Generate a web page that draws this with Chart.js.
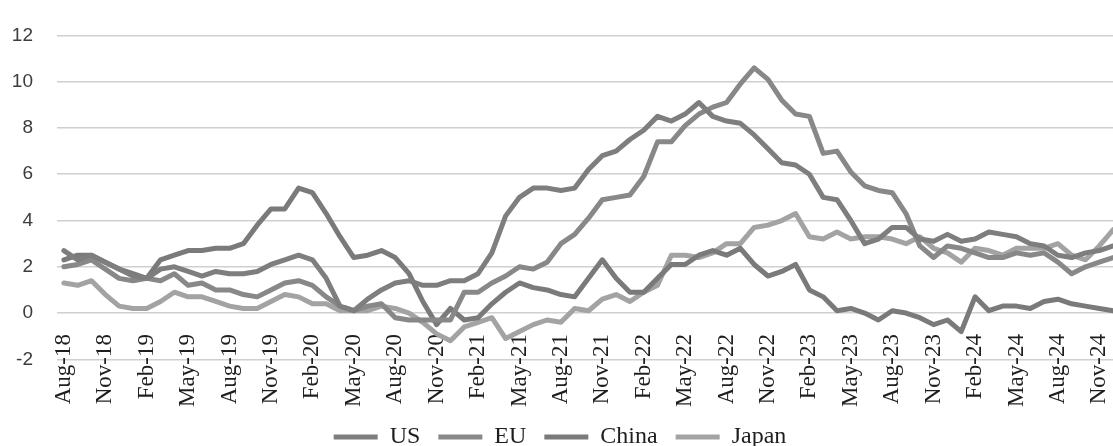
<!DOCTYPE html>
<html>
<head>
<meta charset="utf-8">
<script src="https://cdn.jsdelivr.net/npm/chart.js@4.4.1/dist/chart.umd.min.js"></script>
<style>
  html, body { margin: 0; padding: 0; background: #ffffff; overflow: hidden; }
  #wrap { width: 1140px; height: 459px; }
</style>
</head>
<body>
<div id="wrap"><canvas id="inflation" width="1140" height="459"></canvas></div>
<script>
// Monthly categories, Aug-18 .. Dec-24
const months = [
  'Aug-18','Sep-18','Oct-18','Nov-18','Dec-18',
  'Jan-19','Feb-19','Mar-19','Apr-19','May-19','Jun-19','Jul-19','Aug-19','Sep-19','Oct-19','Nov-19','Dec-19',
  'Jan-20','Feb-20','Mar-20','Apr-20','May-20','Jun-20','Jul-20','Aug-20','Sep-20','Oct-20','Nov-20','Dec-20',
  'Jan-21','Feb-21','Mar-21','Apr-21','May-21','Jun-21','Jul-21','Aug-21','Sep-21','Oct-21','Nov-21','Dec-21',
  'Jan-22','Feb-22','Mar-22','Apr-22','May-22','Jun-22','Jul-22','Aug-22','Sep-22','Oct-22','Nov-22','Dec-22',
  'Jan-23','Feb-23','Mar-23','Apr-23','May-23','Jun-23','Jul-23','Aug-23','Sep-23','Oct-23','Nov-23','Dec-23',
  'Jan-24','Feb-24','Mar-24','Apr-24','May-24','Jun-24','Jul-24','Aug-24','Sep-24','Oct-24','Nov-24','Dec-24'
];

// Year-on-year inflation, %
const us = [
  2.7, 2.3, 2.5, 2.2, 1.9,
  1.6, 1.5, 1.9, 2.0, 1.8, 1.6, 1.8, 1.7, 1.7, 1.8, 2.1, 2.3,
  2.5, 2.3, 1.5, 0.3, 0.1, 0.6, 1.0, 1.3, 1.4, 1.2, 1.2, 1.4,
  1.4, 1.7, 2.6, 4.2, 5.0, 5.4, 5.4, 5.3, 5.4, 6.2, 6.8, 7.0,
  7.5, 7.9, 8.5, 8.3, 8.6, 9.1, 8.5, 8.3, 8.2, 7.7, 7.1, 6.5,
  6.4, 6.0, 5.0, 4.9, 4.0, 3.0, 3.2, 3.7, 3.7, 3.2, 3.1, 3.4,
  3.1, 3.2, 3.5, 3.4, 3.3, 3.0, 2.9, 2.5, 2.4, 2.6, 2.7, 2.9
];
const eu = [
  2.0, 2.1, 2.3, 1.9, 1.5,
  1.4, 1.5, 1.4, 1.7, 1.2, 1.3, 1.0, 1.0, 0.8, 0.7, 1.0, 1.3,
  1.4, 1.2, 0.7, 0.3, 0.1, 0.3, 0.4, -0.2, -0.3, -0.3, -0.3, -0.3,
  0.9, 0.9, 1.3, 1.6, 2.0, 1.9, 2.2, 3.0, 3.4, 4.1, 4.9, 5.0,
  5.1, 5.9, 7.4, 7.4, 8.1, 8.6, 8.9, 9.1, 9.9, 10.6, 10.1, 9.2,
  8.6, 8.5, 6.9, 7.0, 6.1, 5.5, 5.3, 5.2, 4.3, 2.9, 2.4, 2.9,
  2.8, 2.6, 2.4, 2.4, 2.6, 2.5, 2.6, 2.2, 1.7, 2.0, 2.2, 2.4
];
const china = [
  2.3, 2.5, 2.5, 2.2, 1.9,
  1.7, 1.5, 2.3, 2.5, 2.7, 2.7, 2.8, 2.8, 3.0, 3.8, 4.5, 4.5,
  5.4, 5.2, 4.3, 3.3, 2.4, 2.5, 2.7, 2.4, 1.7, 0.5, -0.5, 0.2,
  -0.3, -0.2, 0.4, 0.9, 1.3, 1.1, 1.0, 0.8, 0.7, 1.5, 2.3, 1.5,
  0.9, 0.9, 1.5, 2.1, 2.1, 2.5, 2.7, 2.5, 2.8, 2.1, 1.6, 1.8,
  2.1, 1.0, 0.7, 0.1, 0.2, 0.0, -0.3, 0.1, 0.0, -0.2, -0.5, -0.3,
  -0.8, 0.7, 0.1, 0.3, 0.3, 0.2, 0.5, 0.6, 0.4, 0.3, 0.2, 0.1
];
const japan = [
  1.3, 1.2, 1.4, 0.8, 0.3,
  0.2, 0.2, 0.5, 0.9, 0.7, 0.7, 0.5, 0.3, 0.2, 0.2, 0.5, 0.8,
  0.7, 0.4, 0.4, 0.1, 0.1, 0.1, 0.3, 0.2, 0.0, -0.4, -0.9, -1.2,
  -0.6, -0.4, -0.2, -1.1, -0.8, -0.5, -0.3, -0.4, 0.2, 0.1, 0.6, 0.8,
  0.5, 0.9, 1.2, 2.5, 2.5, 2.4, 2.6, 3.0, 3.0, 3.7, 3.8, 4.0,
  4.3, 3.3, 3.2, 3.5, 3.2, 3.3, 3.3, 3.2, 3.0, 3.3, 2.8, 2.6,
  2.2, 2.8, 2.7, 2.5, 2.8, 2.8, 2.8, 3.0, 2.5, 2.3, 2.9, 3.6
];

// Value-axis gridlines / labels
const yTicks = [-2, 0, 2, 4, 6, 8, 10, 12];

// Axis range: the date labels hang below the zero line, so the plot
// continues a little under the lowest gridline to leave room for them.
const Y_MAX = 12;
const Y_MIN = -4.06;

const serif = 'Liberation Serif, Times New Roman, serif';
const sans = 'Liberation Sans, Arial, sans-serif';

function series(label, values, color) {
  return {
    label,
    data: values,
    borderColor: color,
    backgroundColor: color,
    borderWidth: 5,
    pointRadius: 0,
    pointHoverRadius: 0,
    tension: 0,
    borderJoinStyle: 'round',
    borderCapStyle: 'round'
  };
}

new Chart(document.getElementById('inflation'), {
  type: 'line',
  data: {
    labels: months,
    datasets: [
      series('US', us, '#7e7e7e'),
      series('EU', eu, '#888888'),
      series('China', china, '#7a7a7a'),
      series('Japan', japan, '#a3a3a3')
    ]
  },
  options: {
    responsive: false,
    animation: false,
    devicePixelRatio: 1,
    layout: { padding: { top: 23.5, right: 20, left: 0, bottom: 0 } },
    plugins: {
      tooltip: { enabled: false },
      title: { display: false },
      legend: {
        position: 'bottom',
        labels: {
          font: { family: serif, size: 24 },
          color: '#1e1e1e',
          boxWidth: 44,
          boxHeight: 5,
          padding: 18,
          generateLabels: (chart) =>
            Chart.defaults.plugins.legend.labels.generateLabels(chart).map(item => ({
              ...item,
              fillStyle: item.strokeStyle,
              lineWidth: 0
            }))
        }
      }
    },
    scales: {
      x: {
        type: 'category',
        position: { y: 0 },
        offset: true,
        grid: { display: false, drawTicks: false },
        border: { display: false },
        // the date labels sit under the zero line, inside the plot,
        // so this axis claims no room of its own
        afterFit: (scale) => {
          scale.height = 0;
          scale.paddingLeft = 0;
          scale.paddingRight = 0;
        },
        ticks: {
          autoSkip: false,
          minRotation: 90,
          maxRotation: 90,
          padding: 21,
          color: '#1e1e1e',
          font: { family: serif, size: 23 },
          callback: (value, index) => (index % 3 === 0 ? months[index] : '')
        }
      },
      y: {
        min: Y_MIN,
        max: Y_MAX,
        afterFit: (scale) => { scale.width = 57; },
        afterBuildTicks: (scale) => { scale.ticks = yTicks.map(v => ({ value: v })); },
        grid: { color: '#d0d0d0', lineWidth: 1.5, drawTicks: false },
        border: { display: false },
        ticks: {
          padding: 24,
          color: '#3c3c3c',
          font: { family: sans, size: 19 },
          callback: (v) => String(v)
        }
      }
    }
  }
});
</script>
</body>
</html>
